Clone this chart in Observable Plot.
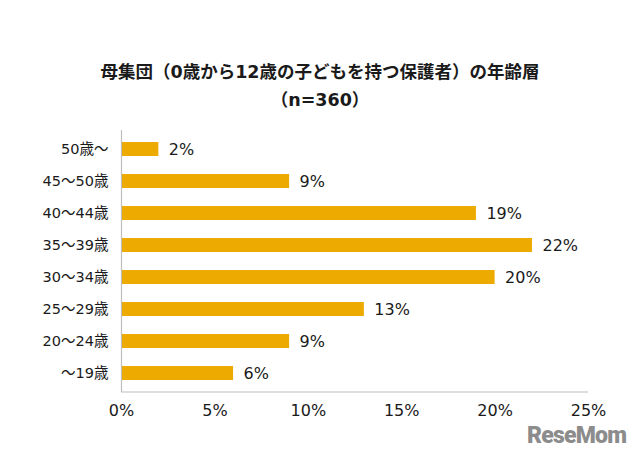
<!DOCTYPE html>
<html>
<head>
<meta charset="utf-8">
<script src="https://cdn.jsdelivr.net/npm/d3@7"></script>
<script src="https://cdn.jsdelivr.net/npm/@observablehq/plot@0.6"></script>
<style>
  html, body { margin: 0; padding: 0; background: #fff; }
  #wrap { position: relative; width: 640px; height: 456px; overflow: hidden; font-family: "DejaVu Sans", "Noto Sans CJK JP", sans-serif; color: #1a1a1a; }
  .t { position: absolute; left: 0; width: 640px; text-align: center; font-weight: bold; font-size: 17.5px; font-family: "DejaVu Sans", "Noto Sans CJK JP", sans-serif; line-height: 22px; }
  #chart { position: absolute; left: 0; top: 115px; }
  #chart svg text { font-family: "DejaVu Sans", "Noto Sans CJK JP", sans-serif; }
  #logo { position: absolute; left: 527px; top: 424px; font-family: Roboto, "DejaVu Sans", sans-serif; font-weight: 900; font-size: 23px; line-height: 24px; color: #8c8c8c; letter-spacing: -0.8px; }
</style>
</head>
<body>
<div id="wrap">
  <div class="t" style="top:61px">母集団（0歳から12歳の子どもを持つ保護者）の年齢層</div>
  <div class="t" style="top:89px">（n=360）</div>
  <div id="chart"></div>
  <div id="logo">ReseMom</div>
</div>
<script>
const categories = ["50歳～", "45～50歳", "40～44歳", "35～39歳", "30～34歳", "25～29歳", "20～24歳", "～19歳"];
const values = [2, 9, 19, 22, 20, 13, 9, 6];
const xTicks = [0, 5, 10, 15, 20, 25];
const barColor = "#EDAA00";

const data = categories.map((c, i) => ({category: c, value: values[i]}));

const chart = Plot.plot({
  width: 640,
  height: 341,
  marginLeft: 121,
  marginRight: 52,
  marginTop: 15,
  marginBottom: 64,
  style: {fontFamily: "'DejaVu Sans', 'Noto Sans CJK JP', sans-serif", color: "#1a1a1a", background: "transparent"},
  x: {domain: [0, 25], ticks: xTicks, tickFormat: d => d + "%", label: null},
  y: {domain: categories, paddingInner: 0.57, paddingOuter: 0.285, label: null},
  marks: [
    Plot.barX(data, {x: "value", y: "category", fill: barColor}),
    Plot.text(data, {x: "value", y: "category", text: d => d.value + "%", textAnchor: "start", dx: 10, fontSize: 16, fill: "#1a1a1a"}),
    Plot.ruleX([0], {stroke: "#bdbdbd", strokeWidth: 1.2}),
    Plot.axisX({ticks: xTicks, tickFormat: d => d + "%", tickSize: 0, tickPadding: 12, fontSize: 16, label: null}),
    Plot.axisY({tickSize: 0, tickPadding: 13, fontSize: 14.5, label: null})
  ]
});

// bottom axis line drawn using the library's x scale
const xs = chart.scale("x");
const svg = d3.select(chart);
svg.append("line")
  .attr("x1", xs.apply(0)).attr("x2", xs.apply(25))
  .attr("y1", 341 - 64).attr("y2", 341 - 64)
  .attr("stroke", "#bdbdbd").attr("stroke-width", 1.2);

document.getElementById("chart").appendChild(chart);
</script>
</body>
</html>
